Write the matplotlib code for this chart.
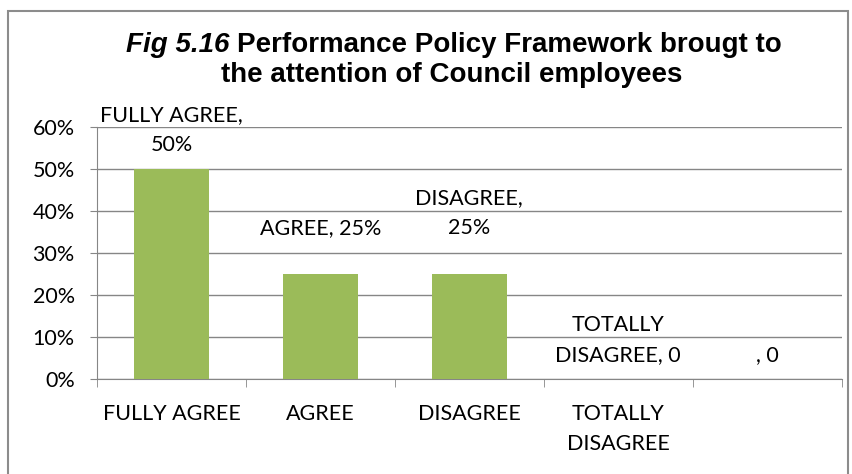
import matplotlib.pyplot as plt
from matplotlib.patches import Rectangle

# data
categories = ["FULLY AGREE", "AGREE", "DISAGREE", "TOTALLY\nDISAGREE", ""]
values = [50, 25, 25, 0, 0]
point_labels = ["FULLY AGREE,\n50%", "AGREE, 25%", "DISAGREE,\n25%",
                "TOTALLY\nDISAGREE, 0", ", 0"]
yticks = [0, 10, 20, 30, 40, 50, 60]

label_font = "Lato"
fs = 15.5
grey = "#868686"

fig = plt.figure(figsize=(8.53, 4.74), dpi=100)
ax = fig.add_axes([0.1137, 0.2004, 0.873, 0.5316])

x = list(range(len(categories)))
ax.bar(x, values, width=0.5, color="#9BBB59", zorder=3)

ax.set_xlim(-0.5, len(categories) - 0.5)
ax.set_ylim(0, 60)
ax.set_yticks(yticks)
ax.set_yticklabels([f"{v}%" for v in yticks], fontfamily=label_font, fontsize=fs)
ax.set_xticks(x)
ax.set_xticklabels(categories, fontfamily=label_font, fontsize=fs, linespacing=1.6)
# category boundary ticks
ax.set_xticks([i - 0.5 for i in range(len(categories) + 1)], minor=True)
ax.tick_params(axis="x", which="major", length=0, pad=18)
ax.tick_params(axis="x", which="minor", length=6, color=grey)
ax.tick_params(axis="y", length=5, color=grey, pad=11)

ax.yaxis.grid(True, color=grey, linewidth=1, zorder=0)
for s in ["top", "right"]:
    ax.spines[s].set_visible(False)
for s in ["left", "bottom"]:
    ax.spines[s].set_color(grey)

# data labels, Excel puts some of them a bit higher
offsets_px = [14, 36, 36, 14, 14]
for i, (v, lab) in enumerate(zip(values, point_labels)):
    ax.annotate(lab, (i, v), xytext=(0, offsets_px[i] * 0.72), textcoords="offset points",
                ha="center", va="bottom", fontfamily=label_font, fontsize=fs,
                linespacing=1.6, annotation_clip=False)

# title with italic figure number
title_fs = 20
fig.text(0.53, 1 - 75 / 474, "the attention of Council employees", ha="center", va="center",
         fontfamily="Liberation Sans", fontweight="bold", fontsize=title_fs)
fig.canvas.draw()
r = fig.canvas.get_renderer()
part1 = fig.text(0, 0, "Fig 5.16 ", fontfamily="Liberation Sans", fontweight="bold",
                 fontstyle="italic", fontsize=title_fs)
part2 = fig.text(0, 0, "Performance Policy Framework brougt to", fontfamily="Liberation Sans",
                 fontweight="bold", fontsize=title_fs)
w1 = part1.get_window_extent(r).width
w2 = part2.get_window_extent(r).width
x0 = 0.532 * fig.bbox.width - (w1 + w2) / 2
y1 = 1 - 45 / 474
part1.set_position((x0 / fig.bbox.width, y1))
part1.set_va("center")
part2.set_position(((x0 + w1) / fig.bbox.width, y1))
part2.set_va("center")

# chart border, open at the bottom edge
fig.patches.append(Rectangle((8 / 853, -0.05), 840 / 853, 1.05 - 11 / 474,
                             transform=fig.transFigure, fill=False,
                             edgecolor="#8c8c8c", linewidth=1.5))

fig.savefig("out.png", dpi=100)
